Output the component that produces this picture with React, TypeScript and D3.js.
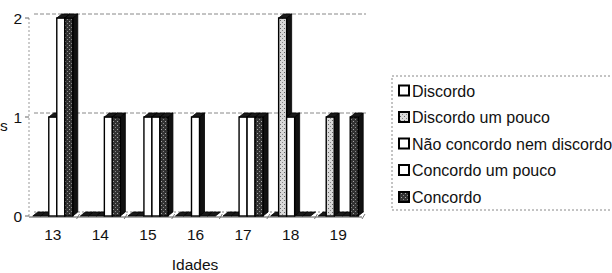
import * as d3 from 'd3';

// ages on the x axis and the answers per series
const ages = ['13', '14', '15', '16', '17', '18', '19'];
const seriesNames = ['Discordo', 'Discordo um pouco', 'Não concordo nem discordo', 'Concordo um pouco', 'Concordo'];
const discordo = [0, 0, 0, 0, 0, 0, 0];
const discordoUmPouco = [0, 0, 0, 0, 0, 2, 1];
const naoConcordo = [1, 0, 1, 1, 1, 1, 0];
const concordoUmPouco = [2, 1, 1, 0, 1, 0, 0];
const concordo = [2, 1, 1, 0, 1, 0, 1];
const yTicks = [0, 1, 2];

const seriesValues = [discordo, discordoUmPouco, naoConcordo, concordoUmPouco, concordo];
const faceFill = ['#fff', 'url(#lightDots)', '#fff', '#fff', 'url(#darkDots)'];

const W = 612;
const H = 273;
const font = '"Liberation Sans", Arial, Helvetica, sans-serif';

export default function App() {
  const dx = 5; // 3d depth
  const dy = 4;
  const x0 = d3.scaleBand<string>().domain(ages).range([29, 362]).padding(0);
  const bw = x0.bandwidth();
  const x1 = d3.scaleBand<string>().domain(seriesNames).range([bw / 2 - 20, bw / 2 + 20]).padding(0);
  const y = d3.scaleLinear().domain([0, 2]).range([216, 18]);
  const w = x1.bandwidth();
  const base = y(0);

  const bars: JSX.Element[] = [];
  ages.forEach((age, i) => {
    seriesNames.forEach((s, j) => {
      const v = seriesValues[j][i];
      const x = (x0(age) ?? 0) + (x1(s) ?? 0);
      const yt = y(v);
      const top = `M${x},${yt} L${x + dx},${yt - dy} L${x + w + dx},${yt - dy} L${x + w},${yt} Z`;
      const side = `M${x + w},${yt} L${x + w + dx},${yt - dy} L${x + w + dx},${base - dy} L${x + w},${base} Z`;
      bars.push(
        <g key={`${age}-${s}`}>
          {v > 0 && <path d={side} fill="#111" stroke="#000" strokeWidth={0.8} />}
          {v > 0 && <rect x={x} y={yt} width={w} height={base - yt} fill={faceFill[j]} stroke="#000" strokeWidth={1.4} />}
          <path d={top} fill="#1a1a1a" stroke="#000" strokeWidth={0.8} />
        </g>
      );
    });
  });

  const legendBase = [96.5, 123, 149.5, 176, 203];

  return (
    <svg width={W} height={H} style={{ position: 'absolute', left: 0, top: 0, background: '#fff' }} fontFamily={font}>
      <defs>
        <pattern id="lightDots" width="4" height="4" patternUnits="userSpaceOnUse">
          <rect width="4" height="4" fill="#d9d9d9" />
          <rect x="0" y="0" width="1" height="1" fill="#666" />
          <rect x="2" y="2" width="1" height="1" fill="#888" />
        </pattern>
        <pattern id="darkDots" width="4" height="4" patternUnits="userSpaceOnUse">
          <rect width="4" height="4" fill="#333" />
          <rect x="1" y="1" width="1" height="1" fill="#aaa" />
          <rect x="3" y="3" width="1" height="1" fill="#888" />
        </pattern>
      </defs>

      {/* back wall gridlines */}
      {yTicks.map(t => (
        <line key={`g${t}`} x1={29 + dx} x2={366} y1={y(t) - dy} y2={y(t) - dy}
          stroke="#888" strokeWidth={1} strokeDasharray={t === 0 ? '2,2' : '4,2'} />
      ))}

      {/* value axis */}
      <line x1={29} x2={29} y1={y(2)} y2={base} stroke="#999" strokeWidth={1} strokeDasharray="2,2" />
      {yTicks.map(t => (
        <g key={`t${t}`}>
          <line x1={25} x2={29} y1={y(t)} y2={y(t)} stroke="#666" />
          <text x={22} y={y(t) + 5.5} textAnchor="end" fontSize={15.5} fill="#111">{t}</text>
        </g>
      ))}
      <text x={0} y={131} fontSize={15.5} fill="#111">s</text>

      {/* floor */}
      <line x1={29} x2={362} y1={base + 1} y2={base + 1} stroke="#555" strokeWidth={1} />
      {ages.map(a => (
        <line key={`d${a}`} x1={(x0(a) ?? 0) + bw} x2={(x0(a) ?? 0) + bw + 3} y1={base + 3} y2={base - 2} stroke="#777" />
      ))}

      {bars}

      {/* category labels */}
      {ages.map(a => (
        <text key={`l${a}`} x={(x0(a) ?? 0) + bw / 2} y={240} textAnchor="middle" fontSize={15.5} fill="#111">{a}</text>
      ))}
      <text x={195} y={270} textAnchor="middle" fontSize={15.5} fill="#111">Idades</text>

      {/* legend */}
      <rect x={392} y={76} width={240} height={134} fill="none" stroke="#888" strokeDasharray="2,2" />
      {seriesNames.map((s, j) => (
        <g key={`lg${s}`}>
          <rect x={399} y={legendBase[j] - 11} width={10} height={10}
            fill={faceFill[j]} stroke="#000" strokeWidth={2} />
          <text x={412} y={legendBase[j]} fontSize={16} fill="#111">{s}</text>
        </g>
      ))}
    </svg>
  );
}
